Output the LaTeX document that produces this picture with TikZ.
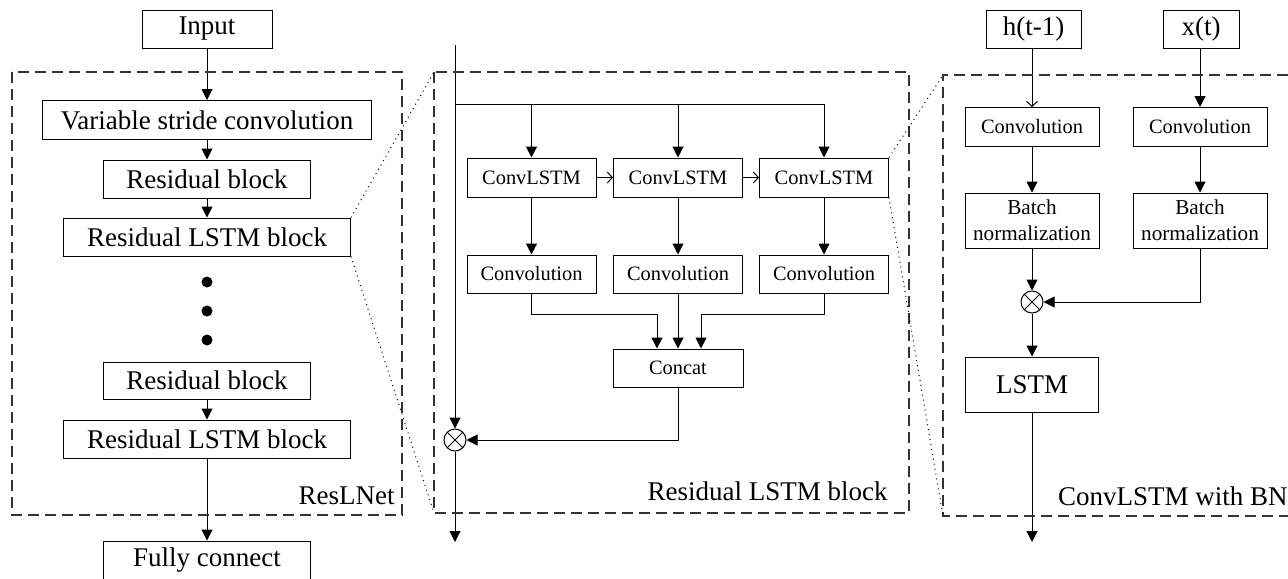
\documentclass[tikz,border=0pt]{standalone}
\usepackage{fontspec}
\setmainfont{Liberation Serif}
\usetikzlibrary{arrows.meta,calc}

\begin{document}
\begin{tikzpicture}[x=0.5pt, y=-0.5pt,
    blk/.style={draw, line width=0.5pt, inner sep=0pt, font=\fontsize{13.5}{15}\selectfont},
    sblk/.style={draw, line width=0.5pt, inner sep=0pt, align=center, font=\fontsize{10.2}{12}\selectfont},
    arr/.style={-{Triangle[length=5.5pt,width=5.5pt]}, line width=0.5pt},
    barb/.style={-{Straight Barb[length=2.5pt,width=5.5pt]}, line width=0.5pt},
    frame/.style={dash pattern=on 5.5pt off 3pt, line width=0.7pt, draw=black!80},
    zoomline/.style={dotted, line width=0.5pt},
    otimes/.style={circle, draw, line width=0.5pt, minimum size=11pt, inner sep=0pt,
      path picture={\draw[line width=0.5pt] (path picture bounding box.north west) -- (path picture bounding box.south east)
        (path picture bounding box.north east) -- (path picture bounding box.south west);}},
    dotnode/.style={circle, fill=black, inner sep=0pt, minimum size=5.5pt},
    lbl/.style={anchor=base east, inner sep=0pt, font=\fontsize{13.5}{15}\selectfont}]
    \useasboundingbox (0,0) rectangle (1288,578);

    % ResLNet
    \node[blk, minimum width=65pt, minimum height=19pt] (input) at (207,29) {Input};
    \node[blk, minimum width=164.5pt, minimum height=19.5pt] (vsc) at (207,120) {Variable stride convolution};
    \node[blk, minimum width=103.5pt, minimum height=19pt] (res1) at (207,179) {Residual block};
    \node[blk, minimum width=143.5pt, minimum height=19pt] (rlstm1) at (207,237) {Residual LSTM block};
    \node[dotnode] (d1) at (207,282) {};
    \node[dotnode] (d2) at (207,311) {};
    \node[dotnode] (d3) at (207,340) {};
    \node[blk, minimum width=103.5pt, minimum height=18.5pt] (res2) at (207,380.5) {Residual block};
    \node[blk, minimum width=143.5pt, minimum height=19pt] (rlstm2) at (207,439) {Residual LSTM block};
    \node[blk, minimum width=103.5pt, minimum height=19pt] (fc) at (207,560) {Fully connect};
    \draw[arr] (input) -- (vsc);
    \draw[arr] (vsc) -- (res1);
    \draw[arr] (res1) -- (rlstm1);
    \draw[arr] (res2) -- (rlstm2);
    \draw[arr] (rlstm2) -- (fc);
    \draw[frame] (12,72) rectangle (402,515);
    \node[lbl] (reslnet) at (395,504) {ResLNet};

    % Residual LSTM block
    \coordinate (top) at (455,45);
    \coordinate (split) at (455,104);
    \node[otimes] (add1) at (455,440) {};
    \coordinate (out1) at (455,542);
    \node[sblk, minimum width=64.5pt, minimum height=19.5pt] (cl1) at (531.5,177.5) {ConvLSTM};
    \node[sblk, minimum width=64.5pt, minimum height=19.5pt] (cl2) at (678,177.5) {ConvLSTM};
    \node[sblk, minimum width=64.5pt, minimum height=19.5pt] (cl3) at (824,177.5) {ConvLSTM};
    \node[sblk, minimum width=64.5pt, minimum height=19pt] (cv1) at (531.5,274) {Convolution};
    \node[sblk, minimum width=64.5pt, minimum height=19pt] (cv2) at (678,274) {Convolution};
    \node[sblk, minimum width=64.5pt, minimum height=19pt] (cv3) at (824,274) {Convolution};
    \node[sblk, minimum width=65pt, minimum height=19pt] (concat) at (678,368) {Concat};
    \draw[arr] (top) -- (add1);
    \draw[arr] (split) -| (cl1.north);
    \draw[arr] (split) -| (cl2.north);
    \draw[arr] (split) -| (cl3.north);
    \draw[barb] (cl1) -- (cl2);
    \draw[barb] (cl2) -- (cl3);
    \draw[arr] (cl1) -- (cv1);
    \draw[arr] (cl2) -- (cv2);
    \draw[arr] (cl3) -- (cv3);
    \draw[arr] (cv1.south) -- ++(0,21) -| ([xshift=-10.5pt]concat.north);
    \draw[arr] (cv2) -- (concat);
    \draw[arr] (cv3.south) -- ++(0,21) -| ([xshift=11.5pt]concat.north);
    \draw[arr] (concat.south) |- (add1.east);
    \draw[arr] (add1) -- (out1);
    \coordinate (f2nw) at (434,72);
    \coordinate (f2sw) at (434,513);
    \draw[frame] (f2nw) rectangle (909,513);
    \node[lbl] (rlstmlbl) at (888,500) {Residual LSTM block};

    % ConvLSTM with BN
    \node[blk, minimum width=47.5pt, minimum height=19pt] (hprev) at (1033.5,29) {h(t-1)};
    \node[blk, minimum width=38pt, minimum height=19pt] (xt) at (1201,29) {x(t)};
    \node[sblk, minimum width=67pt, minimum height=19.5pt] (convh) at (1032,127) {Convolution};
    \node[sblk, minimum width=67pt, minimum height=19.5pt] (convx) at (1200,127) {Convolution};
    \node[sblk, minimum width=67pt, minimum height=27.5pt, font=\fontsize{10.6}{13}\selectfont] (bnh) at (1032,220.5) {Batch\\normalization};
    \node[sblk, minimum width=67pt, minimum height=27.5pt, font=\fontsize{10.6}{13}\selectfont] (bnx) at (1200,220.5) {Batch\\normalization};
    \node[otimes] (add2) at (1032,302) {};
    \node[blk, minimum width=66.5pt, minimum height=27.5pt] (lstm) at (1032,384.5) {LSTM};
    \coordinate (out2) at (1032,542);
    \draw[barb] (hprev.south -| convh) -- (convh);
    \draw[arr] (xt.south -| convx) -- (convx);
    \draw[arr] (convh) -- (bnh);
    \draw[arr] (convx) -- (bnx);
    \draw[arr] (bnh) -- (add2);
    \draw[arr] (bnx.south) |- (add2.east);
    \draw[arr] (add2) -- (lstm);
    \draw[arr] (lstm) -- (out2);
    \coordinate (f3nw) at (943,75);
    \coordinate (f3sw) at (943,516);
    \draw[frame] (1288,75) -- (f3nw) -- (f3sw) -- (1288,516);
    \node[lbl] (bnlbl) at (1288,505) {ConvLSTM with BN};

    % zoom lines
    \draw[zoomline] (rlstm1.north east) -- (f2nw);
    \draw[zoomline] (rlstm1.south east) -- (f2sw);
    \draw[zoomline] (cl3.north east) -- (f3nw);
    \draw[zoomline] (cl3.south east) -- (f3sw);
\end{tikzpicture}
\end{document}
